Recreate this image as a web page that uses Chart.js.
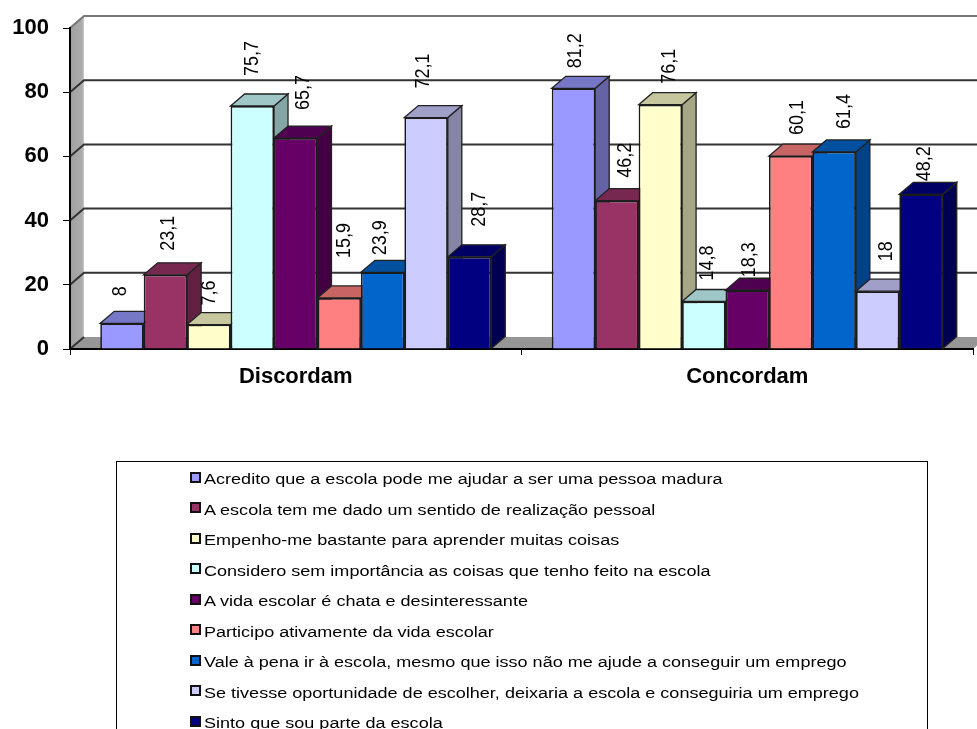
<!DOCTYPE html>
<html>
<head>
<meta charset="utf-8">
<title>Discordam / Concordam</title>
<script src="https://cdn.jsdelivr.net/npm/chart.js@4"></script>
<style>
    html, body { margin: 0; padding: 0; background: #fff; width: 977px; height: 729px; overflow: hidden; }
    #wrap { position: relative; width: 977px; height: 729px; overflow: hidden; }
    #legend-box { position: absolute; left: 116px; top: 461px; width: 810px; height: 320px; border: 1px solid #000; }
    .legend-row { position: absolute; left: 73px; height: 20px; line-height: 20px; white-space: nowrap; font: 15.5px "Liberation Sans", Arial, sans-serif; color: #000; }
    .legend-row i { position: absolute; left: 0; top: 1.5px; width: 7px; height: 7px; border: 2px solid #111; }
    .legend-row span { display: inline-block; margin-left: 14px; transform: scaleX(1.164); transform-origin: left center; }
</style>
</head>
<body>
<div id="wrap">
    <canvas id="chart" width="977" height="729"></canvas>
    <div id="legend-box"></div>
</div>
<script>
// Dados
const categories = ['Discordam', 'Concordam'];
const seriesNames = [
    'Acredito que a escola pode me ajudar a ser uma pessoa madura',
    'A escola tem me dado um sentido de realização pessoal',
    'Empenho-me bastante para aprender muitas coisas',
    'Considero sem importância as coisas que tenho feito na escola',
    'A vida escolar é chata e desinteressante',
    'Participo ativamente da vida escolar',
    'Vale à pena ir à escola, mesmo que isso não me ajude a conseguir um emprego',
    'Se tivesse oportunidade de escolher, deixaria a escola e conseguiria um emprego',
    'Sinto que sou parte da escola'
];
const discordam = [8, 23.1, 7.6, 75.7, 65.7, 15.9, 23.9, 72.1, 28.7];
const concordam = [81.2, 46.2, 76.1, 14.8, 18.3, 60.1, 61.4, 18, 48.2];
const yTicks = [0, 20, 40, 60, 80, 100];

// Estilo
const seriesColors = ['#9999FF', '#993366', '#FFFFCC', '#CCFFFF', '#660066', '#FF8080', '#0066CC', '#CCCCFF', '#000080'];
const DEPTH_X = 14;
const DEPTH_Y = 12;
const LABEL_FONT = '18px "Liberation Sans", Arial, sans-serif';
const AXIS_FONT = { family: '"Liberation Sans", Arial, sans-serif', size: 22, weight: 'bold' };
// Ajuste fino dos rótulos, como o Excel os deixou: [dx, distância acima da barra]
const labelNudge = [
    [[-1, 27], [3, 24], [1, 19], [0, 30], [8, 28], [5, 40], [-2, 17], [-3, 29], [10, 30]],
    [[2, 20], [9, 23], [9, 21], [4, 21], [2, 13], [7, 21], [10, 23], [9, 30], [4, 13]]
];

function shade(hex, factor) {
    const n = parseInt(hex.slice(1), 16);
    const r = Math.round((n >> 16 & 255) * factor);
    const g = Math.round((n >> 8 & 255) * factor);
    const b = Math.round((n & 255) * factor);
    return `rgb(${r},${g},${b})`;
}

function polygon(ctx, points, fill, stroke, lineWidth) {
    ctx.beginPath();
    points.forEach((p, i) => i ? ctx.lineTo(p[0], p[1]) : ctx.moveTo(p[0], p[1]));
    ctx.closePath();
    ctx.fillStyle = fill;
    ctx.fill();
    if (stroke) {
        ctx.strokeStyle = stroke;
        ctx.lineWidth = lineWidth;
        ctx.stroke();
    }
}

// Paredes, chão e linhas de grade deslocadas para o fundo
const wallsPlugin = {
    id: 'walls',
    beforeDraw(chart) {
        const { ctx, chartArea: area, scales } = chart;
        const y = scales.y;
        const top = y.getPixelForValue(100);
        const bottom = y.getPixelForValue(0);
        ctx.save();
        polygon(ctx, [[area.left, bottom], [area.left + DEPTH_X, bottom - DEPTH_Y],
            [area.right + DEPTH_X, bottom - DEPTH_Y], [area.right, bottom]], '#969696');
        const wall = ctx.createLinearGradient(area.left, 0, area.left + DEPTH_X + 1, 0);
        wall.addColorStop(0, '#A0A0A0');
        wall.addColorStop(0.8, '#ABABAB');
        wall.addColorStop(1, '#DDDDDD');
        polygon(ctx, [[area.left, bottom], [area.left + DEPTH_X, bottom - DEPTH_Y],
            [area.left + DEPTH_X, top - DEPTH_Y], [area.left, top]], wall);
        yTicks.forEach(tick => {
            const py = y.getPixelForValue(tick);
            ctx.beginPath();
            ctx.moveTo(area.left, py);
            ctx.lineTo(area.left + DEPTH_X, py - DEPTH_Y);
            if (tick > 0) ctx.lineTo(area.right + DEPTH_X, py - DEPTH_Y);
            ctx.strokeStyle = tick === 100 ? '#777' : '#333';
            ctx.lineWidth = 2;
            ctx.stroke();
        });
        ctx.restore();
    },
    // Faces laterais e de cima, da esquerda para a direita
    beforeDatasetsDraw(chart) {
        const { ctx } = chart;
        ctx.save();
        categories.forEach((cat, i) => {
            seriesNames.forEach((name, s) => {
                const bar = chart.getDatasetMeta(s).data[i];
                const left = bar.x - bar.width / 2;
                const right = bar.x + bar.width / 2;
                polygon(ctx, [[right, bar.base], [right + DEPTH_X, bar.base - DEPTH_Y],
                    [right + DEPTH_X, bar.y - DEPTH_Y], [right, bar.y]],
                    shade(seriesColors[s], 0.65), '#222', 1.3);
                polygon(ctx, [[left, bar.y], [left + DEPTH_X, bar.y - DEPTH_Y],
                    [right + DEPTH_X, bar.y - DEPTH_Y], [right, bar.y]],
                    shade(seriesColors[s], 0.78), '#222', 1.3);
            });
        });
        ctx.restore();
    }
};

// Rótulos de valor na vertical, com vírgula decimal
const valueLabelsPlugin = {
    id: 'valueLabels',
    afterDatasetsDraw(chart) {
        const { ctx } = chart;
        ctx.save();
        ctx.font = LABEL_FONT;
        ctx.fillStyle = '#000';
        ctx.textAlign = 'left';
        ctx.textBaseline = 'middle';
        categories.forEach((cat, i) => {
            seriesNames.forEach((name, s) => {
                const bar = chart.getDatasetMeta(s).data[i];
                const value = chart.data.datasets[s].data[i];
                const [dx, gap] = labelNudge[i][s];
                ctx.save();
                ctx.translate(bar.x + dx, bar.y - gap);
                ctx.rotate(-Math.PI / 2);
                ctx.scale(1, 1.1);
                ctx.fillText(String(value).replace('.', ','), 0, 0);
                ctx.restore();
            });
        });
        ctx.restore();
    }
};

new Chart(document.getElementById('chart'), {
    type: 'bar',
    data: {
        labels: categories,
        datasets: seriesNames.map((name, s) => ({
            label: name,
            data: [discordam[s], concordam[s]],
            backgroundColor: seriesColors[s],
            borderColor: '#1a1a1a',
            borderWidth: 1.7,
            categoryPercentage: 0.866,
            barPercentage: 1
        }))
    },
    options: {
        responsive: false,
        animation: false,
        devicePixelRatio: 1,
        layout: { padding: { left: 0, top: 28, right: 4, bottom: 0 } },
        plugins: { legend: { display: false }, tooltip: { enabled: false } },
        scales: {
            x: {
                offset: true,
                afterFit(scale) { scale.height = 380; },
                grid: { drawOnChartArea: false, color: '#000', tickLength: 6 },
                border: { color: '#000', width: 2 },
                ticks: { color: '#000', font: AXIS_FONT, padding: 9, maxRotation: 0 }
            },
            y: {
                min: 0,
                max: 100,
                afterFit(scale) { scale.width = 70; },
                afterBuildTicks(scale) { scale.ticks = yTicks.map(value => ({ value })); },
                grid: { drawOnChartArea: false, color: '#000', tickLength: 7 },
                border: { color: '#000', width: 2 },
                ticks: { color: '#000', font: AXIS_FONT, padding: 14 }
            }
        }
    },
    plugins: [wallsPlugin, valueLabelsPlugin]
});

// Legenda em HTML, cortada na parte de baixo como na imagem
const legendBox = document.getElementById('legend-box');
seriesNames.forEach((name, s) => {
    const row = document.createElement('div');
    row.className = 'legend-row';
    row.style.top = (8 + s * 30.5) + 'px';
    const swatch = document.createElement('i');
    swatch.style.background = seriesColors[s];
    const text = document.createElement('span');
    text.textContent = name;
    row.append(swatch, text);
    legendBox.appendChild(row);
});
</script>
</body>
</html>
